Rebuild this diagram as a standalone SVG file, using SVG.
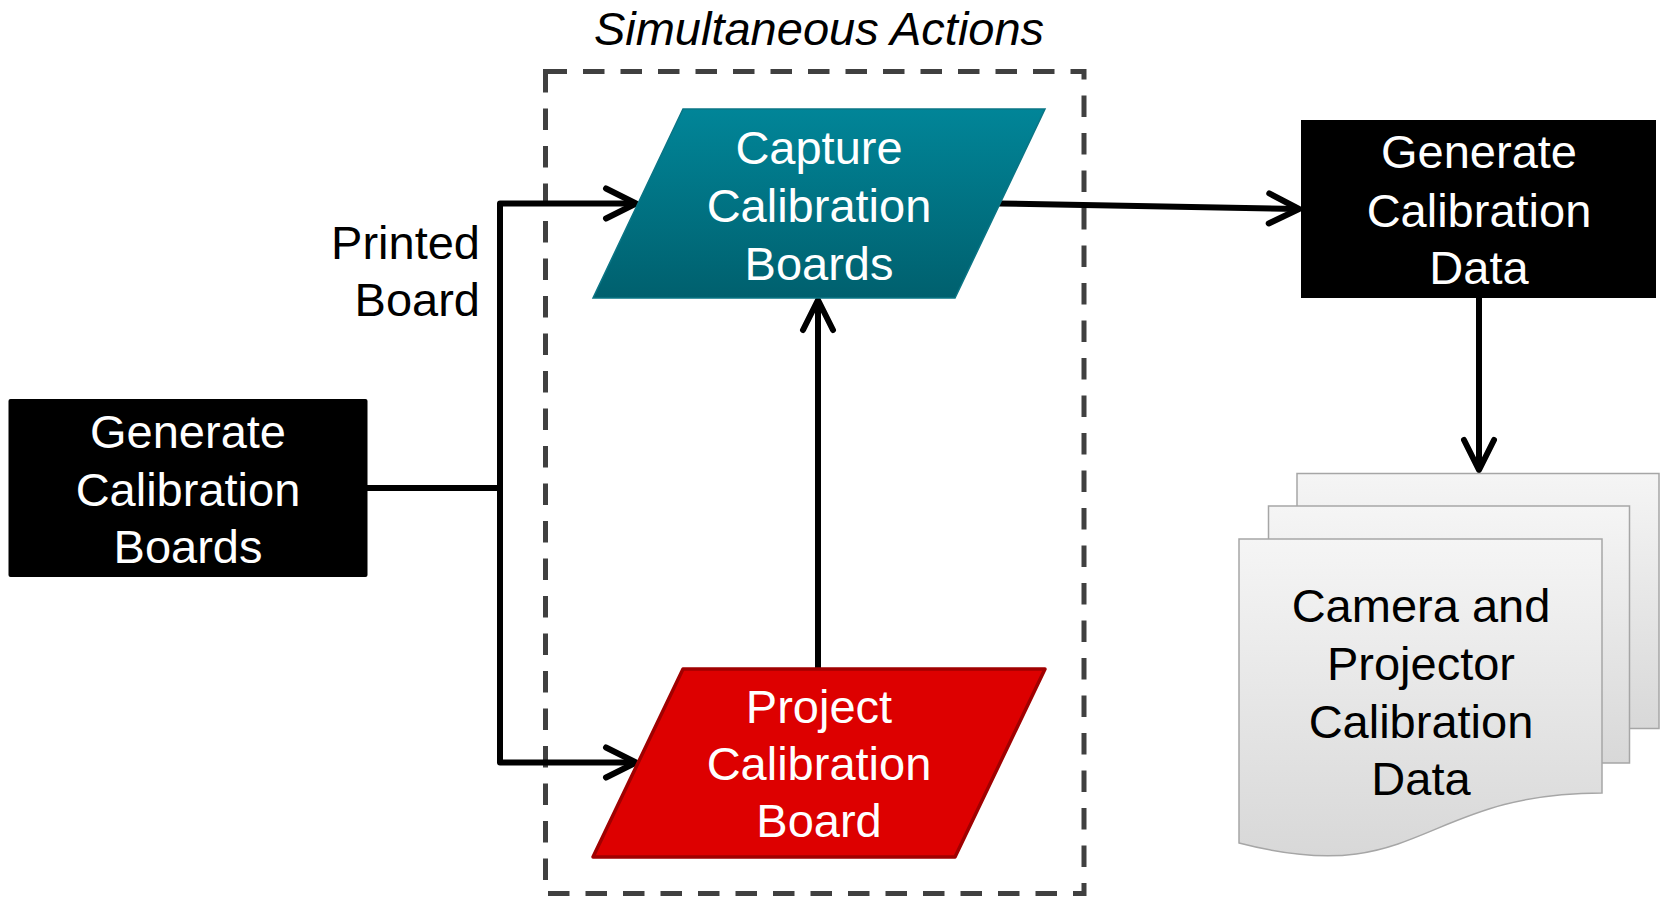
<svg xmlns="http://www.w3.org/2000/svg" width="1661" height="898" viewBox="0 0 1661 898">
<defs>
<linearGradient id="teal" x1="0" y1="0" x2="0" y2="1">
<stop offset="0" stop-color="#018598"/>
<stop offset="1" stop-color="#00606e"/>
</linearGradient>
<linearGradient id="paper" x1="0" y1="0" x2="0" y2="1">
<stop offset="0" stop-color="#f5f5f5"/>
<stop offset="1" stop-color="#d8d8d8"/>
</linearGradient>
<marker id="chev" viewBox="0 0 40 40" refX="34" refY="20" markerWidth="40" markerHeight="40" markerUnits="userSpaceOnUse" orient="auto">
<path d="M4,5 L34,20 L4,35" fill="none" stroke="#000" stroke-width="6" stroke-linecap="round" stroke-linejoin="round"/>
</marker>
</defs>
<style>
text{font-family:"Liberation Sans",Arial,sans-serif;font-size:47px;text-anchor:middle}
.w{fill:#fff}
.k{fill:#000}
.conn{fill:none;stroke:#000;stroke-width:6;stroke-linejoin:round}
</style>
<rect width="1661" height="898" fill="#fff"/>
<g id="group-simultaneous">
<rect x="545.5" y="71.5" width="538.5" height="822" fill="none" stroke="#404040" stroke-width="5" stroke-dasharray="21.5 16"/>
<text x="819" y="45" class="k" style="font-style:italic">Simultaneous Actions</text>
</g>
<g id="connectors">
<path class="conn" d="M367,488 H500"/>
<path class="conn" d="M500,762.5 V203.5 H636" marker-end="url(#chev)"/>
<path class="conn" d="M500,500 V762.5 H636" marker-end="url(#chev)"/>
<path class="conn" d="M818,668 V300" marker-end="url(#chev)"/>
<path class="conn" d="M999,203.5 L1299,209" marker-end="url(#chev)"/>
<path class="conn" d="M1479,298 V470" marker-end="url(#chev)"/>
<text x="480" y="259" class="k" style="text-anchor:end">Printed</text>
<text x="480" y="316" class="k" style="text-anchor:end">Board</text>
</g>
<g id="node-gen-boards">
<rect x="8.5" y="399" width="359" height="178" rx="2" fill="#000"/>
<text x="188" y="448" class="w">Generate</text>
<text x="188" y="506" class="w">Calibration</text>
<text x="188" y="563" class="w">Boards</text>
</g>
<g id="node-capture">
<polygon points="683,109 1045,109 955,298 593,298" fill="url(#teal)" stroke="#0a7585" stroke-width="1.5"/>
<text x="819" y="164" class="w">Capture</text>
<text x="819" y="222" class="w">Calibration</text>
<text x="819" y="280" class="w">Boards</text>
</g>
<g id="node-project">
<polygon points="683,669 1045,669 955,857 593,857" fill="#dd0000" stroke="#a00000" stroke-width="3.5" stroke-linejoin="round"/>
<text x="819" y="723" class="w">Project</text>
<text x="819" y="780" class="w">Calibration</text>
<text x="819" y="837" class="w">Board</text>
</g>
<g id="node-gen-data">
<rect x="1301" y="120" width="355" height="178" fill="#000"/>
<text x="1479" y="168" class="w">Generate</text>
<text x="1479" y="227" class="w">Calibration</text>
<text x="1479" y="284" class="w">Data</text>
</g>
<g id="node-docs">
<rect x="1297" y="473.5" width="362" height="255" fill="url(#paper)" stroke="#a6a6a6" stroke-width="1.5"/>
<rect x="1268.5" y="506" width="361" height="257" fill="url(#paper)" stroke="#a6a6a6" stroke-width="1.5"/>
<path d="M1239,539 H1602 V793 C1420,793 1420,890 1239,843 Z" fill="url(#paper)" stroke="#a6a6a6" stroke-width="1.5"/>
<text x="1421" y="622" class="k">Camera and</text>
<text x="1421" y="680" class="k">Projector</text>
<text x="1421" y="738" class="k">Calibration</text>
<text x="1421" y="795" class="k">Data</text>
</g>
</svg>
